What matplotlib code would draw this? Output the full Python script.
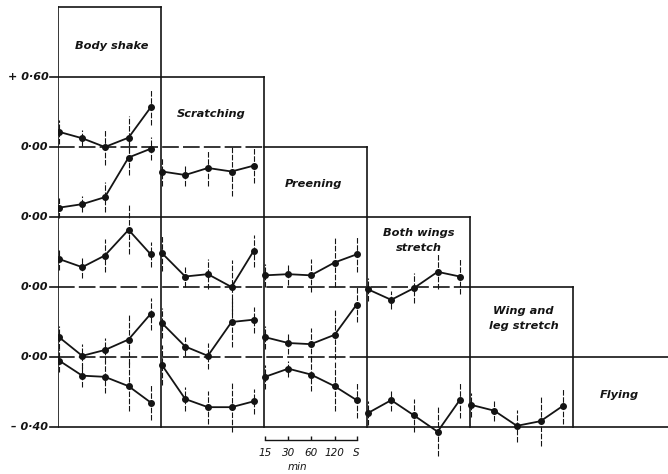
import matplotlib
matplotlib.use("Agg")
import matplotlib.pyplot as plt
import numpy as np

# ---------------- data (values in the figure's own units, relative to each row's zero line)
time_labels = ["15", "30", "60", "120", "S"]
behaviours = ["Body shake", "Scratching", "Preening", "Both wings\nstretch",
              "Wing and\nleg stretch", "Flying"]
level_labels = ["+ 0·60", "0·00", "0·00", "0·00", "0·00", "– 0·40"]

# column 0 : after Body shake
bs_a = [0.13, 0.075, 0.00, 0.08, 0.34]
bs_a_err = [0.10, 0.07, 0.15, 0.19, 0.15]
bs_b = [-0.52, -0.49, -0.43, -0.09, -0.015]
bs_b_err = [0.09, 0.07, 0.13, 0.15, 0.10]
bs_c = [0.24, 0.17, 0.27, 0.49, 0.28]
bs_c_err = [0.09, 0.09, 0.14, 0.21, 0.11]
bs_d = [0.17, 0.01, 0.06, 0.15, 0.37]
bs_d_err = [0.10, 0.10, 0.10, 0.21, 0.14]
bs_e = [-0.03, -0.16, -0.17, -0.25, -0.39]
bs_e_err = [0.10, 0.10, 0.14, 0.21, 0.15]
# column 1 : after Scratching
sc_b = [-0.21, -0.24, -0.18, -0.21, -0.16]
sc_b_err = [0.12, 0.09, 0.15, 0.21, 0.15]
sc_c = [0.29, 0.09, 0.11, 0.00, 0.31]
sc_c_err = [0.15, 0.09, 0.13, 0.23, 0.14]
sc_d = [0.29, 0.09, 0.01, 0.30, 0.32]
sc_d_err = [0.13, 0.08, 0.11, 0.21, 0.11]
sc_e = [-0.07, -0.36, -0.43, -0.43, -0.38]
sc_e_err = [0.17, 0.10, 0.14, 0.21, 0.11]
# column 2 : after Preening
pr_c = [0.10, 0.11, 0.10, 0.21, 0.28]
pr_c_err = [0.10, 0.09, 0.14, 0.21, 0.15]
pr_d = [0.17, 0.12, 0.11, 0.19, 0.45]
pr_d_err = [0.10, 0.09, 0.14, 0.21, 0.15]
pr_e = [-0.17, -0.10, -0.15, -0.25, -0.37]
pr_e_err = [0.10, 0.07, 0.14, 0.21, 0.15]
# column 3 : after Both wings stretch
bw_c = [-0.02, -0.11, -0.01, 0.13, 0.09]
bw_c_err = [0.10, 0.08, 0.13, 0.15, 0.15]
bw_e = [-0.48, -0.37, -0.50, -0.64, -0.37]
bw_e_err = [0.10, 0.09, 0.14, 0.21, 0.15]
# column 4 : after Wing and leg stretch
wl_e = [-0.41, -0.46, -0.59, -0.55, -0.42]
wl_e_err = [0.10, 0.09, 0.14, 0.21, 0.15]

# ---------------- layout
PX = 0.6 / 70.0                     # value units per pixel
levels = [3.6, 3.0, 2.4, 1.8, 1.2, 0.6, 0.0]   # staircase lines, top to bottom
Z1, Z3, Z4 = levels[2], levels[4], levels[5]
tfrac = np.array([0.01, 0.235, 0.455, 0.685, 0.90])

series = [
    (0, Z1, bs_a, bs_a_err), (0, Z1, bs_b, bs_b_err), (0, Z3, bs_c, bs_c_err),
    (0, Z4, bs_d, bs_d_err), (0, Z4, bs_e, bs_e_err),
    (1, Z1, sc_b, sc_b_err), (1, Z3, sc_c, sc_c_err), (1, Z4, sc_d, sc_d_err),
    (1, Z4, sc_e, sc_e_err),
    (2, Z3, pr_c, pr_c_err), (2, Z4, pr_d, pr_d_err), (2, Z4, pr_e, pr_e_err),
    (3, Z3, bw_c, bw_c_err), (3, Z4, bw_e, bw_e_err),
    (4, Z4, wl_e, wl_e_err),
]

plt.rcParams['font.family'] = ['DejaVu Sans']
fig = plt.figure(figsize=(6.68, 4.74), dpi=100)
ax = fig.add_axes([58 / 668, 0, 610 / 668, 1])
xmax = 610 / 103
ax.set_xlim(0, xmax)
ax.set_ylim(-47 * PX, 427 * PX)
ax.axis('off')

K = '#141414'
LW = 1.2
tick = 8 / 103

# staircase boxes
ax.plot([0, 0], [levels[0], levels[6]], color=K, lw=LW)
ax.plot([0, 1], [levels[0], levels[0]], color=K, lw=LW)
for i in range(1, 6):
    ax.plot([i, i], [levels[i - 1], levels[6]], color=K, lw=LW)
# horizontal lines
dash = (0, (10, 2.5))
# +0.60 line
ax.plot([-tick, 2], [levels[1]] * 2, color=K, lw=LW, clip_on=False)
# Z1 (zero ref in cols 0-1, box top of col 2)
ax.plot([-tick, 0], [Z1] * 2, color=K, lw=LW, clip_on=False)
ax.plot([0, 2], [Z1] * 2, color=K, lw=LW, ls=dash)
ax.plot([2, 3], [Z1] * 2, color=K, lw=LW)
# level 1.8
ax.plot([-tick, 4], [levels[3]] * 2, color=K, lw=LW, clip_on=False)
# Z3
ax.plot([-tick, 0], [Z3] * 2, color=K, lw=LW, clip_on=False)
ax.plot([0, 4], [Z3] * 2, color=K, lw=LW, ls=dash)
ax.plot([4, 5], [Z3] * 2, color=K, lw=LW)
# Z4
ax.plot([-tick, 0], [Z4] * 2, color=K, lw=LW, clip_on=False)
ax.plot([0, 3], [Z4] * 2, color=K, lw=LW, ls=dash)
ax.plot([3, xmax], [Z4] * 2, color=K, lw=LW)
# bottom
ax.plot([-tick, xmax], [levels[6]] * 2, color=K, lw=LW, clip_on=False)

# level labels
for lab, lev in zip(level_labels, levels[1:]):
    ax.text(-tick - 0.015, lev, lab, ha='right', va='center', fontsize=8,
            fontweight='bold', fontstyle='italic', color=K, clip_on=False)

# behaviour labels
label_pos = [(0.52, 3.27), (1.49, 2.68), (2.48, 2.08), (3.5, 1.60),
             (4.52, 0.93), (5.45, 0.27)]
for lab, (lx, ly) in zip(behaviours, label_pos):
    ax.text(lx, ly, lab, ha='center', va='center', fontsize=8.2,
            fontweight='bold', fontstyle='italic', color=K, linespacing=1.65)

# data series
for col, base, vals, errs in series:
    x = col + tfrac
    y = base + np.array(vals)
    e = np.array(errs)
    ax.vlines(x, y - e, y + e, colors=K, lw=0.8, linestyles=(0, (5, 1.5)))
    ax.plot(x, y, color=K, lw=1.3, marker='o', ms=4, mfc=K, mec=K, zorder=3)

# time scale under preening column
ys = -13 * PX
xs = 2 + tfrac
ax.plot([xs[0], xs[-1]], [ys, ys], color=K, lw=1.0, clip_on=False)
ax.vlines(xs, ys, ys + 4 * PX, colors=K, lw=1.0)
for xt, tl in zip(xs, time_labels):
    ax.text(xt, -26 * PX, tl, ha='center', va='center', fontsize=7.5,
            fontstyle='italic', color=K)
ax.text((xs[1] + xs[2]) / 2 - 0.02, -40 * PX, "min", ha='center', va='center',
        fontsize=7.5, fontstyle='italic', color=K)

fig.savefig("out.png", dpi=100)
